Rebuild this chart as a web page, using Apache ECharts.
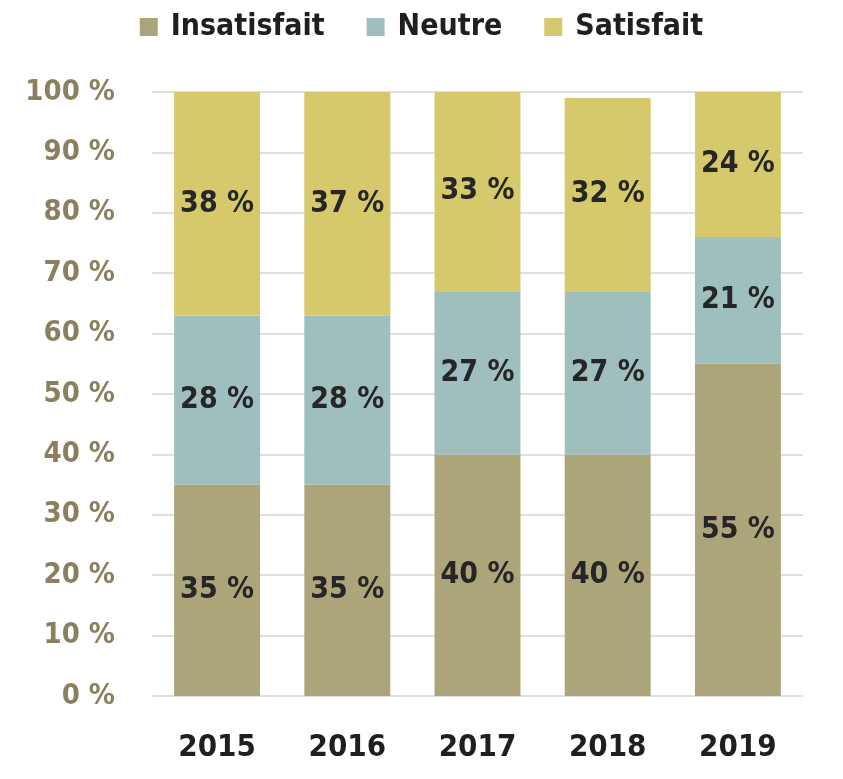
<!DOCTYPE html>
<html>
<head>
<meta charset="utf-8">
<script src="https://cdn.jsdelivr.net/npm/echarts@6/dist/echarts.min.js"></script>
<style>
  html, body { margin: 0; padding: 0; background: #fff; }
  #chart { width: 843px; height: 779px; }
</style>
</head>
<body>
<div id="chart"></div>
<script>
var years = ['2015', '2016', '2017', '2018', '2019'];
var insatisfait = [35, 35, 40, 40, 55];
var neutre = [28, 28, 27, 27, 21];
var satisfait = [38, 37, 33, 32, 24];
var seriesNames = ['Insatisfait', 'Neutre', 'Satisfait'];
var colors = ['#ada57a', '#9ebfbe', '#d6c96b'];

var condensed = '"DejaVu Sans Condensed", "DejaVu Sans", sans-serif';

var myChart = echarts.init(document.getElementById('chart'));

var labelStyle = {
    show: true,
    position: 'inside',
    formatter: '{c} %',
    color: '#262626',
    fontSize: 30,
    fontWeight: 'bold',
    fontFamily: condensed
};

function makeSeries(name, data) {
    return {
        name: name,
        type: 'bar',
        stack: 'total',
        barWidth: '66%',
        data: data,
        label: labelStyle
    };
}

var option = {
    color: colors,
    animation: false,
    legend: {
        top: 7,
        left: 'center',
        itemWidth: 18,
        itemHeight: 18,
        itemGap: 42,
        icon: 'rect',
        textStyle: {
            color: '#1f1f1f',
            fontSize: 30,
            fontWeight: 'bold',
            fontFamily: condensed,
            padding: [0, 0, 0, 8]
        },
        data: seriesNames
    },
    grid: {
        left: 152,
        right: 40,
        top: 92,
        bottom: 83,
        containLabel: false
    },
    xAxis: {
        type: 'category',
        data: years,
        axisLine: {show: false},
        axisTick: {show: false},
        axisLabel: {
            margin: 36,
            color: '#1f1f1f',
            fontSize: 31,
            fontWeight: 'bold',
            fontFamily: condensed
        }
    },
    yAxis: {
        type: 'value',
        min: 0,
        max: 100,
        interval: 10,
        axisLabel: {
            margin: 37,
            formatter: '{value} %',
            color: '#8c7f5e',
            fontSize: 29,
            fontWeight: 'bold',
            fontFamily: condensed
        },
        splitLine: {lineStyle: {color: '#e3dede', width: 2}}
    },
    series: [
        makeSeries(seriesNames[0], insatisfait),
        makeSeries(seriesNames[1], neutre),
        makeSeries(seriesNames[2], satisfait)
    ]
};

myChart.setOption(option);
</script>
</body>
</html>
